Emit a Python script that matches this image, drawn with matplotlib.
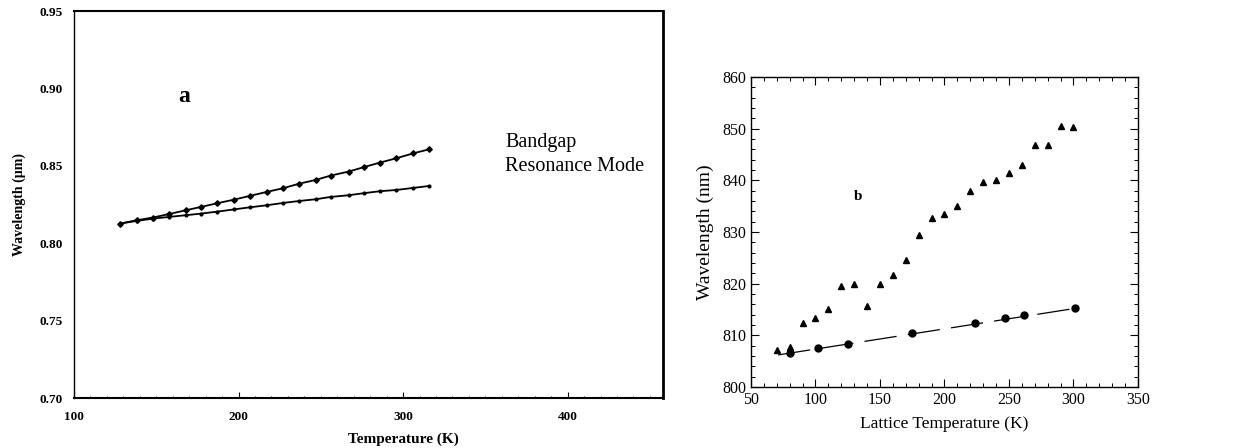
import matplotlib
matplotlib.use("Agg")
import matplotlib.pyplot as plt
from matplotlib.ticker import MultipleLocator

# panel a: computed bandgap / resonance mode wavelength (um) vs temperature (K)
temp_a = [128, 138, 148, 158, 168, 177, 187, 197, 207, 217,
          227, 237, 247, 256, 267, 276, 286, 296, 306, 316]
bandgap = [0.8127, 0.8148, 0.8166, 0.8189, 0.8213, 0.8234, 0.8258, 0.8281, 0.8306, 0.8331,
           0.8355, 0.8385, 0.8409, 0.8437, 0.8463, 0.8491, 0.8521, 0.8549, 0.8580, 0.8607]
resonance = [0.8127, 0.8144, 0.8159, 0.8170, 0.8181, 0.8191, 0.8204, 0.8218, 0.8232, 0.8245,
             0.8260, 0.8273, 0.8284, 0.8299, 0.8310, 0.8323, 0.8336, 0.8344, 0.8357, 0.8370]

# panel b: measured wavelength (nm) vs lattice temperature (K)
temp_tri = [70, 80, 90, 100, 110, 120, 130, 140, 150, 160, 170, 180,
            190, 200, 210, 220, 230, 240, 250, 260, 270, 280, 290, 300]
wl_tri = [807.1, 807.8, 812.4, 813.4, 815.1, 819.5, 820.0, 815.7, 820.0, 821.7, 824.5, 829.5,
          832.8, 833.4, 835.0, 837.9, 839.6, 840.1, 841.4, 843.0, 846.9, 846.9, 850.5, 850.4]
temp_dot = [80, 102, 125, 175, 224, 247, 262, 301]
wl_dot = [806.5, 807.5, 808.4, 810.5, 812.3, 813.3, 813.9, 815.2]
fit_t = [71, 301]
fit_wl = [806.2, 815.2]

serif = ["Liberation Serif", "DejaVu Serif"]
plt.rcParams["font.family"] = serif

fig = plt.figure(figsize=(12.4, 4.48), dpi=100)

# ---- left panel ----
ax1 = fig.add_axes([0.0597, 0.1116, 0.475, 0.8638])
ax1.plot(temp_a, bandgap, color="k", lw=1.3, marker="D", ms=2.8)
ax1.plot(temp_a, resonance, color="k", lw=1.3, marker="o", ms=2)
ax1.set_xlim(100, 458)
ax1.set_ylim(0.70, 0.95)
ax1.set_xticks([100, 200, 300, 400])
ax1.set_yticks([0.70, 0.75, 0.80, 0.85, 0.90, 0.95])
ax1.set_yticklabels(["0.70", "0.75", "0.80", "0.85", "0.90", "0.95"])
ax1.xaxis.set_minor_locator(MultipleLocator(10))
ax1.tick_params(axis="x", which="major", direction="in", length=4, width=0.8, pad=9, labelsize=9.5)
ax1.tick_params(axis="x", which="minor", direction="in", length=1.5, width=0.6)
ax1.tick_params(axis="y", which="major", length=0, pad=8, labelsize=9.5)
for lab in ax1.get_xticklabels() + ax1.get_yticklabels():
    lab.set_fontweight("bold")
ax1.spines["left"].set_linewidth(1.0)
ax1.spines["bottom"].set_linewidth(1.5)
ax1.spines["top"].set_linewidth(1.5)
ax1.spines["right"].set_linewidth(2.0)
ax1.set_ylabel("Wavelength (\u00b5m)", fontsize=10, fontweight="bold", labelpad=10)
ax1.set_xlabel("Temperature (K)", fontsize=11, fontweight="bold", labelpad=6)
ax1.xaxis.set_label_coords(0.56, -0.09)
ax1.text(167, 0.895, "a", fontsize=17, fontweight="bold", ha="center", va="center")
ax1.text(362, 0.8653, "Bandgap", fontsize=14.5, ha="left", va="center")
ax1.text(362, 0.8497, "Resonance Mode", fontsize=14.5, ha="left", va="center")

# ---- right panel ----
ax2 = fig.add_axes([0.6056, 0.1362, 0.3121, 0.6919])
ax2.plot(temp_tri, wl_tri, linestyle="none", marker="^", ms=5, color="k")
ax2.plot(temp_dot, wl_dot, linestyle="none", marker="o", ms=5, color="k")
ax2.plot(fit_t, fit_wl, color="k", lw=0.9, dashes=(26, 9))
ax2.set_xlim(50, 350)
ax2.set_ylim(800, 860)
ax2.xaxis.set_major_locator(MultipleLocator(50))
ax2.xaxis.set_minor_locator(MultipleLocator(10))
ax2.yaxis.set_major_locator(MultipleLocator(10))
ax2.yaxis.set_minor_locator(MultipleLocator(2))
ax2.tick_params(which="major", direction="in", length=6, width=0.8, top=True, right=True, labelsize=11.5)
ax2.tick_params(which="minor", direction="in", length=3, width=0.7, top=True, right=True)
for sp in ax2.spines.values():
    sp.set_linewidth(1.0)
ax2.set_xlabel("Lattice Temperature (K)", fontsize=12.5, labelpad=6)
ax2.set_ylabel("Wavelength (nm)", fontsize=14, labelpad=6)
ax2.text(133, 836.8, "b", fontsize=11, fontweight="bold", ha="center", va="center")

fig.savefig("out.png", dpi=100)
